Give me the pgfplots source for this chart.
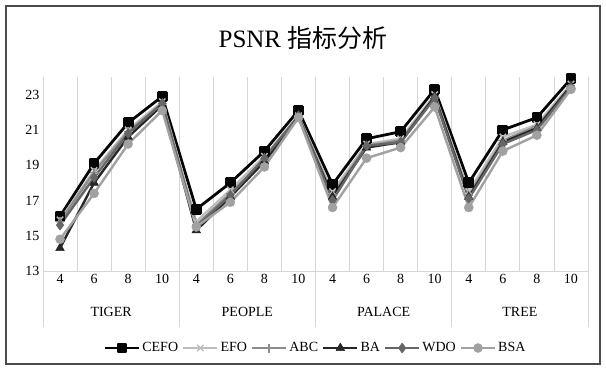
\documentclass[border=0pt]{standalone}
\usepackage{pgfplots}
\usepackage{pgfplotstable}
\pgfplotsset{compat=1.18}
\usepackage{fontspec}
\setmainfont{Liberation Serif}
\newfontfamily\cjk{Noto Sans CJK SC}

\definecolor{cefo}{gray}{0.02}
\definecolor{efo}{gray}{0.74}
\definecolor{abc}{gray}{0.55}
\definecolor{ba}{gray}{0.15}
\definecolor{wdo}{gray}{0.40}
\definecolor{bsa}{gray}{0.63}
\definecolor{gridc}{gray}{0.84}

% PSNR per image (TIGER, PEOPLE, PALACE, TREE) and threshold count 4/6/8/10
\pgfplotstableread{
x  cefo efo  abc  ba   wdo  bsa
0  16.1 15.9 15.8 14.3 15.6 14.8
1  19.1 18.7 18.6 18.0 18.3 17.4
2  21.4 21.0 20.9 20.6 20.8 20.2
3  22.9 22.6 22.5 22.4 22.5 22.1
4  16.5 15.8 15.6 15.3 15.5 15.5
5  18.0 17.6 17.4 17.2 17.3 16.9
6  19.8 19.5 19.3 19.2 19.4 18.9
7  22.1 21.8 21.8 21.7 21.8 21.7
8  17.9 17.5 17.3 17.2 17.0 16.6
9  20.5 20.2 20.1 20.0 20.1 19.4
10 20.9 20.5 20.4 20.3 20.3 20.0
11 23.3 23.0 22.9 22.9 22.8 22.3
12 18.0 17.5 17.3 17.2 17.1 16.6
13 21.0 20.6 20.4 20.3 20.2 19.8
14 21.7 21.3 21.2 21.1 21.0 20.7
15 23.9 23.6 23.5 23.5 23.4 23.3
}\psnr

\begin{document}
\begin{tikzpicture}[x=1pt,y=1pt]
\path[fill=white] (0,0) rectangle (606,370);
\draw[line width=1.5pt, black!70] (6,6) rectangle (600,364);
\node at (303,332) {\fontsize{25}{30}\selectfont PSNR {\cjk 指标分析}};
\begin{axis}[
  at={(43pt,99pt)}, anchor=south west,
  scale only axis, width=545pt, height=194pt,
  xmin=-0.5, xmax=15.5, ymin=13, ymax=24,
  clip=false,
  separate axis lines,
  axis x line*=bottom, axis y line*=left,
  x axis line style={gridc, line width=0.8pt, -},
  y axis line style={draw=none},
  xtick={0,...,15},
  xticklabels={4,6,8,10,4,6,8,10,4,6,8,10,4,6,8,10},
  ytick={13,15,17,19,21,23},
  minor xtick={-0.5,0.5,...,15.5},
  xminorgrids,
  minor grid style={gridc, line width=0.8pt},
  major tick length=0pt, minor tick length=0pt,
  tick style={draw=none},
  tick label style={font=\fontsize{14}{16}\selectfont},
  /pgf/number format/assume math mode=true,
  legend columns=6,
  legend style={at={(0.5,-0.397)}, anchor=center, draw=none, fill=none,
    font=\fontsize{14}{16}\selectfont,
    /tikz/every even column/.append style={column sep=2pt}},
  legend image code/.code={%
    \draw[mark repeat=2,mark phase=2] plot coordinates {(0pt,0pt) (17pt,0pt) (34pt,0pt)};},
  every axis plot/.append style={line width=2.4pt, line join=round},
]
\addplot[cefo, line width=2.8pt, mark=square*, mark size=4pt, mark options={solid}] table[x=x,y=cefo]{\psnr};
\addlegendentry{CEFO}
\addplot[efo, mark=x, mark size=4.5pt, mark options={line width=1.4pt}] table[x=x,y=efo]{\psnr};
\addlegendentry{EFO}
\addplot[abc, mark=+, mark size=4.5pt, mark options={line width=1.4pt}] table[x=x,y=abc]{\psnr};
\addlegendentry{ABC}
\addplot[ba, mark=triangle*, mark size=5pt, mark options={line width=0.5pt}] table[x=x,y=ba]{\psnr};
\addlegendentry{BA}
\addplot[wdo, mark=diamond*, mark size=5pt, mark options={line width=0.5pt}] table[x=x,y=wdo]{\psnr};
\addlegendentry{WDO}
\addplot[bsa, mark=*, mark size=4.5pt, mark options={line width=0.5pt}] table[x=x,y=bsa]{\psnr};
\addlegendentry{BSA}
% group separators below the axis and group names
\draw[gridc, line width=0.8pt] (axis cs:-0.5,13) -- ++(0pt,-56pt);
\draw[gridc, line width=0.8pt] (axis cs:3.5,13) -- ++(0pt,-56pt);
\draw[gridc, line width=0.8pt] (axis cs:7.5,13) -- ++(0pt,-56pt);
\draw[gridc, line width=0.8pt] (axis cs:11.5,13) -- ++(0pt,-56pt);
\draw[gridc, line width=0.8pt] (axis cs:15.5,13) -- ++(0pt,-56pt);
\node[font=\fontsize{14}{16}\selectfont] at ([yshift=-41pt]axis cs:1.5,13) {TIGER};
\node[font=\fontsize{14}{16}\selectfont] at ([yshift=-41pt]axis cs:5.5,13) {PEOPLE};
\node[font=\fontsize{14}{16}\selectfont] at ([yshift=-41pt]axis cs:9.5,13) {PALACE};
\node[font=\fontsize{14}{16}\selectfont] at ([yshift=-41pt]axis cs:13.5,13) {TREE};
\end{axis}
\end{tikzpicture}
\end{document}
